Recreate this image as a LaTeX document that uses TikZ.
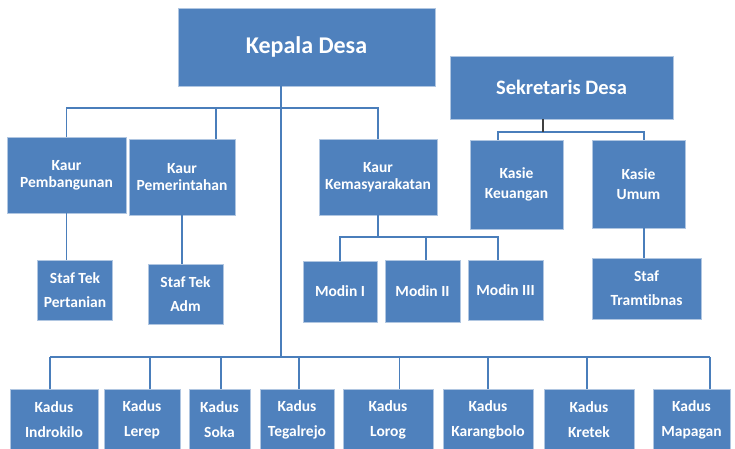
\documentclass[tikz,border=0pt]{standalone}
\usepackage{fontspec}
\setmainfont{Carlito}[Ligatures=NoCommon]
\usetikzlibrary{positioning,calc}
\definecolor{boxblue}{HTML}{4F81BD}
\definecolor{lineblue}{HTML}{4A7EBB}
\definecolor{stemgray}{HTML}{404040}
\tikzset{
  unit/.style={rectangle,draw=white!55!boxblue,line width=.6pt,fill=boxblue,
    text=white,align=center,inner sep=0pt,font=\bfseries\fontsize{15.5}{24}\selectfont},
  link/.style={draw=lineblue,line width=1.1pt},
  stemline/.style={draw=stemgray,line width=2pt}
}
\newcommand*{\fs}[1]{\bfseries\fontsize{15.5}{#1}\selectfont}

\begin{document}
\begin{tikzpicture}[x=1pt,y=-1pt]
\useasboundingbox (0,0) rectangle (735,449);
\node[unit,minimum width=257pt,minimum height=78pt,font=\bfseries\fontsize{24}{28}\selectfont] (kd) at (306.5,47) {Kepala Desa};
\node[unit,minimum width=223pt,minimum height=63pt,font=\bfseries\fontsize{20.5}{24}\selectfont] (sd) at (561.5,87.5) {Sekretaris Desa};

\node[unit,minimum width=119pt,minimum height=76pt,font=\fs{17}] (kpemb) at (66.5,175) {Kaur\\Pembangunan};
\node[unit,minimum width=106pt,minimum height=76pt,font=\fs{17}] (kpem) at (182,177) {Kaur\\Pemerintahan};
\node[unit,minimum width=118pt,minimum height=76pt,font=\fs{17}] (kkem) at (378,177) {Kaur\\Kemasyarakatan};
\node[unit,minimum width=93pt,minimum height=89pt,font=\fs{20}] (ks) at (516.5,184.5) {Kasie\\Keuangan};
\node[unit,minimum width=93pt,minimum height=88pt,font=\fs{20}] (ku) at (638.5,184) {Kasie\\Umum};

\node[unit,minimum width=75pt,minimum height=60pt] (sp) at (75,290) {Staf Tek\\Pertanian};
\node[unit,minimum width=75pt,minimum height=60pt] (sa) at (185.5,294) {Staf Tek\\Adm};
\node[unit,minimum width=74pt,minimum height=61pt] (m1) at (340,291.5) {Modin I};
\node[unit,minimum width=75pt,minimum height=62pt] (m2) at (422.5,291) {Modin II};
\node[unit,minimum width=75pt,minimum height=60pt] (m3) at (505.5,290) {Modin III};
\node[unit,minimum width=109pt,minimum height=61pt] (st) at (646.5,288.5) {Staf\\Tramtibnas};

\coordinate (kaurM) at (216,108);
\coordinate (kaurR) at (378,108);
\coordinate (kdstem) at (281,357);
\coordinate (modM) at (426,237);
\coordinate (modR) at (498,237);
\coordinate (sekstem) at (543,132);
\coordinate (kasL) at (498,132);
\coordinate (kasR) at (644,132);

\draw[link] (kdstem |- kd.south) -- (kdstem);
\draw[link] (kpemb.north) |- (kaurR) -- (kkem.north);
\draw[link] (kaurM) -- (kaurM |- kpem.north);
\draw[link] (kpemb.south) -- (kpemb.south |- sp.north);
\draw[link] (kpem.south) -- (kpem.south |- sa.north);
\draw[link] (kkem.south) -- (kkem.south |- modM);
\draw[link] (m1.north) |- (modR) -- (modR |- m3.north);
\draw[link] (modM) -- (modM |- m2.north);
\draw[link] (kasL |- ks.north) |- (kasR) -- (kasR |- ku.north);
\draw[stemline] (sekstem |- sd.south) -- (sekstem);
\draw[link] (kasR |- ku.south) -- (kasR |- st.north);

\foreach \i/\cx/\w/\dx/\nm in {1/54/88/50/Indrokilo,2/142/76/150/Lerep,
  3/219.5/61/221/Soka,4/297/74/299/Tegalrejo,5/388/90/399.5/Lorog,
  6/488/90/488/Karangbolo,7/589/90/587/Kretek,8/691.5/77/710/Mapagan}{
  \node[unit,minimum width=\w pt,minimum height=61pt,font=\fs{25}] (kad\i) at (\cx,419.5) {Kadus\\\nm};
  \coordinate (d\i) at (\dx,357);
  \draw[link] (d\i) -- (d\i |- kad\i.north);
}
\draw[link] (d1) -- (d8);
\end{tikzpicture}
\end{document}
